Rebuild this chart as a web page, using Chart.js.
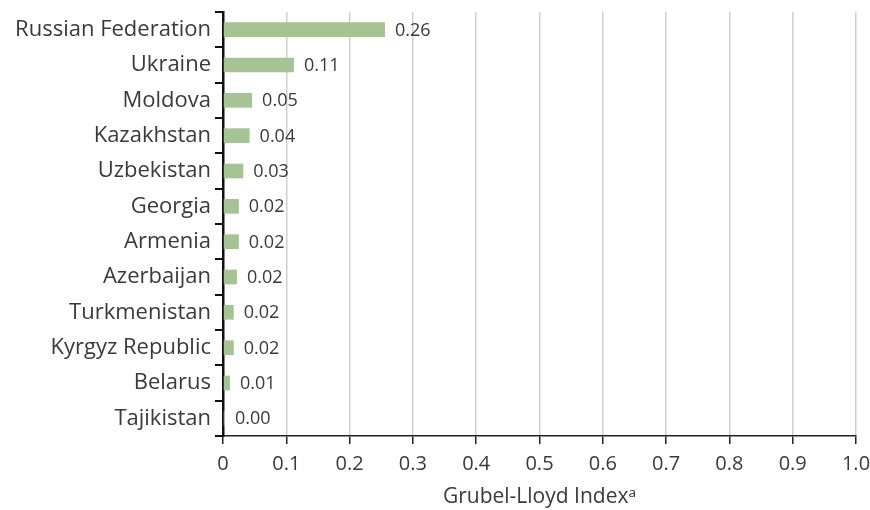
<!DOCTYPE html>
<html>
<head>
<meta charset="utf-8">
<script src="https://cdn.jsdelivr.net/npm/chart.js@4/dist/chart.umd.min.js"></script>
<style>
  html, body { margin: 0; padding: 0; background: #fff; }
  #wrap { width: 870px; height: 510px; position: relative; }
</style>
</head>
<body>
<div id="wrap"><canvas id="c" width="870" height="510"></canvas></div>
<script>
const categories = ["Russian Federation", "Ukraine", "Moldova", "Kazakhstan", "Uzbekistan", "Georgia", "Armenia", "Azerbaijan", "Turkmenistan", "Kyrgyz Republic", "Belarus", "Tajikistan"];
const values = [0.256, 0.112, 0.046, 0.042, 0.032, 0.025, 0.025, 0.022, 0.017, 0.017, 0.011, 0.003];
const valueLabels = ["0.26", "0.11", "0.05", "0.04", "0.03", "0.02", "0.02", "0.02", "0.02", "0.02", "0.01", "0.00"];
const xTickLabels = ["0", "0.1", "0.2", "0.3", "0.4", "0.5", "0.6", "0.7", "0.8", "0.9", "1.0"];
const axisTitle = "Grubel-Lloyd Index\u1D43";

const FONT = "'Open Sans', 'Noto Sans', sans-serif";
const TEXT = "#3a3a3a";

const valueLabelPlugin = {
  id: 'valueLabels',
  afterDatasetsDraw(chart) {
    const ctx = chart.ctx;
    const meta = chart.getDatasetMeta(0);
    ctx.save();
    ctx.font = "18px " + FONT;
    ctx.fillStyle = TEXT;
    ctx.textAlign = 'left';
    ctx.textBaseline = 'middle';
    meta.data.forEach((bar, i) => {
      ctx.fillText(valueLabels[i], bar.x + 10, bar.y + 1);
    });
    ctx.restore();
  }
};

new Chart(document.getElementById('c'), {
  type: 'bar',
  data: {
    labels: categories,
    datasets: [{
      data: values,
      backgroundColor: '#a6c393',
      borderWidth: 0,
      barPercentage: 0.83,
      categoryPercentage: 0.5
    }]
  },
  options: {
    indexAxis: 'y',
    responsive: false,
    animation: false,
    devicePixelRatio: 1,
    layout: { padding: { top: 12, right: 14, bottom: 0, left: 0 } },
    plugins: { legend: { display: false }, tooltip: { enabled: false } },
    scales: {
      x: {
        min: 0, max: 1,
        afterFit(scale) { scale.height = 74; scale.paddingRight = 0; scale.paddingLeft = 0; },
        ticks: {
          stepSize: 0.1,
          color: TEXT,
          font: { family: FONT, size: 20 },
          padding: 8,
          maxRotation: 0,
          callback: (v, i) => xTickLabels[i]
        },
        grid: { color: '#d0d0d0', lineWidth: 1.5, tickColor: '#222', tickLength: 8, drawTicks: true },
        border: { color: '#222', width: 1.5 },
        title: { display: true, text: axisTitle, color: TEXT, font: { family: FONT, size: 21 }, padding: { top: 0, bottom: 0 } }
      },
      y: {
        afterFit(scale) { scale.width = 223; scale.paddingTop = 0; scale.paddingBottom = 0; },
        ticks: { color: TEXT, font: { family: FONT, size: 22 }, padding: 4 },
        grid: { drawOnChartArea: false, drawTicks: true, tickLength: 8, tickColor: '#111', lineWidth: 2, offset: true },
        border: { color: '#111', width: 2.5 }
      }
    }
  },
  plugins: [valueLabelPlugin]
});
</script>
</body>
</html>
